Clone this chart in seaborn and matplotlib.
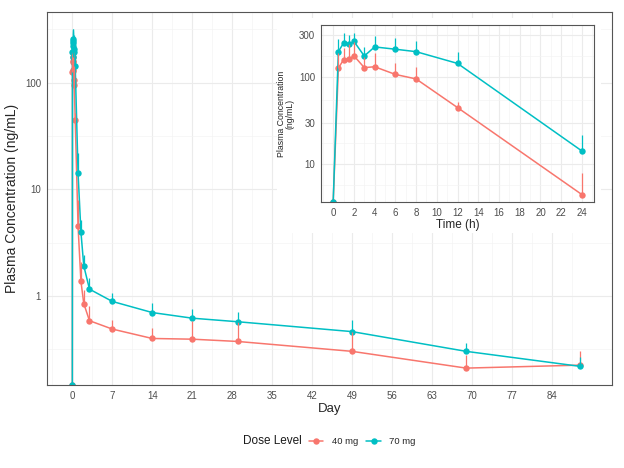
import numpy as np
import pandas as pd
import matplotlib
matplotlib.use('Agg')
import matplotlib.pyplot as plt
from matplotlib.lines import Line2D
from matplotlib.patches import Rectangle
from matplotlib.ticker import FixedLocator, FixedFormatter, NullFormatter
import seaborn as sns

# sampling times: hours for the first 3 days, then days
hours_early = [0, 0.5, 1, 1.5, 2, 3, 4, 6, 8, 12, 24, 36, 48, 72]
days_late = [7, 14, 21, 29, 49, 69, 89]

doses = ['40 mg', '70 mg']
colors = ['#F8766D', '#00BFC4']

# mean and SD (ng/mL), time 0 is below LLOQ (0)
mean_40 = [0, 126, 158, 159, 175, 128, 131, 107, 95, 44.6, 4.5, 1.38, 0.85, 0.587,
           0.49, 0.40, 0.394, 0.375, 0.303, 0.211, 0.225]
sd_40 = [0, 61, 59, 78, 79, 43, 56, 36, 34, 7.4, 3.5, 0.72, 0.29, 0.22,
         0.11, 0.10, 0.186, 0.195, 0.167, 0.067, 0.08]
mean_70 = [0, 195, 245, 236, 256, 174, 221, 208, 195, 143, 14.2, 4.0, 1.92, 1.16,
           0.89, 0.70, 0.62, 0.574, 0.464, 0.303, 0.219]
sd_70 = [0, 75, 77, 67, 66, 48, 74, 72, 63, 49, 7.5, 1.2, 0.5, 0.31,
         0.18, 0.155, 0.14, 0.142, 0.136, 0.057, 0.051]

day_ticks = list(range(0, 85, 7))
hour_ticks = list(range(0, 25, 2))

time_day = [h / 24 for h in hours_early] + days_late
time_hour = hours_early + [d * 24 for d in days_late]

frames = []
for dose, m, s in zip(doses, [mean_40, mean_70], [sd_40, sd_70]):
    frames.append(pd.DataFrame({'Dose': dose, 'day': time_day, 'hour': time_hour,
                                'conc': m, 'sd': s}))
df = pd.concat(frames, ignore_index=True)

sns.set_style('white')
plt.rcParams['font.family'] = ['Liberation Sans', 'DejaVu Sans']

fig = plt.figure(figsize=(6.24, 4.68), dpi=100)
ax = fig.add_axes([0.0748, 0.1774, 0.9054, 0.7963])

pal = dict(zip(doses, colors))
main_ylim = (0.1466, 457)
inset_ylim = (3.67, 394)


def style_axes(ax, ylim, xlim, xmaj, xmin, ymaj, ymaj_lab, ymin, lab_size):
    ax.set_yscale('log')
    ax.set_xlim(*xlim)
    ax.set_ylim(*ylim)
    ax.xaxis.set_major_locator(FixedLocator(xmaj))
    ax.xaxis.set_major_formatter(FixedFormatter([str(v) for v in xmaj]))
    ax.xaxis.set_minor_locator(FixedLocator(xmin))
    ax.xaxis.set_minor_formatter(NullFormatter())
    ax.yaxis.set_major_locator(FixedLocator(ymaj))
    ax.yaxis.set_major_formatter(FixedFormatter(ymaj_lab))
    ax.yaxis.set_minor_locator(FixedLocator(ymin))
    ax.yaxis.set_minor_formatter(NullFormatter())
    ax.grid(which='major', color='#EBEBEB', lw=0.8)
    ax.grid(which='minor', color='#F3F3F3', lw=0.45)
    ax.set_axisbelow(True)
    ax.tick_params(which='major', length=2.6, width=0.6, color='#333333',
                   labelsize=lab_size, labelcolor='#4D4D4D', pad=1.5)
    ax.tick_params(which='minor', length=0)
    for sp in ax.spines.values():
        sp.set_color('#555555')
        sp.set_linewidth(0.8)


def draw(ax, data, xcol, ylo):
    data = data.copy()
    data['conc_plot'] = data['conc'].clip(lower=ylo)
    sns.lineplot(data=data, x=xcol, y='conc_plot', hue='Dose', hue_order=doses,
                 palette=pal, marker='o', markersize=4.6, markeredgewidth=0,
                 linewidth=1.1, errorbar=None, sort=False, legend=False, ax=ax)
    for dose in doses:
        sub = data[(data['Dose'] == dose) & (data['sd'] > 0)]
        ax.vlines(sub[xcol], sub['conc'], sub['conc'] + sub['sd'],
                  color=pal[dose], lw=0.9)


draw(ax, df, 'day', main_ylim[0])
style_axes(ax, main_ylim, (-4.5, 94.5), day_ticks,
           [d + 3.5 for d in range(-7, 91, 7)],
           [1, 10, 100], ['1', '10', '100'],
           [10 ** -0.5, 10 ** 0.5, 10 ** 1.5, 10 ** 2.5], 7)
ax.set_xlabel('Day', fontsize=9.5, labelpad=2)
ax.set_ylabel('Plasma Concentration (ng/mL)', fontsize=10, labelpad=4)

# white background behind inset
bg = Rectangle((0.444, 0.502), 0.519, 0.4595, transform=fig.transFigure,
               facecolor='white', edgecolor='none', zorder=1)
fig.add_artist(bg)

ax2 = fig.add_axes([0.514, 0.5677, 0.4385, 0.3789])
ax2.set_zorder(2)
inset = df[df['hour'] <= 24]
draw(ax2, inset, 'hour', inset_ylim[0])
style_axes(ax2, inset_ylim, (-1.2, 25.2), hour_ticks,
           [h for h in range(-1, 26, 2)],
           [10, 30, 100, 300], ['10', '30', '100', '300'],
           [10 / np.sqrt(3), np.sqrt(300), np.sqrt(3000), np.sqrt(30000)], 7)
ax2.set_xlabel('Time (h)', fontsize=8.5, labelpad=1)
ax2.set_ylabel('Plasma Concentration\n(ng/mL)', fontsize=6.3, labelpad=3,
               linespacing=1.0)

# legend at bottom
fig.text(302 / 624, 1 - 441.5 / 468, 'Dose Level', fontsize=8.5,
         ha='right', va='center', color='#1A1A1A')
handles = [Line2D([], [], color=c, lw=1.1, marker='o', markersize=4.6,
                  markeredgewidth=0) for c in colors]
fig.legend(handles, doses, loc='center left',
           bbox_to_anchor=(309 / 624, 1 - 441.5 / 468), ncol=2, frameon=False,
           fontsize=6.8, handlelength=1.5, handletextpad=0.9, columnspacing=0.9,
           borderpad=0, borderaxespad=0)

fig.savefig('out.png', dpi=100)
